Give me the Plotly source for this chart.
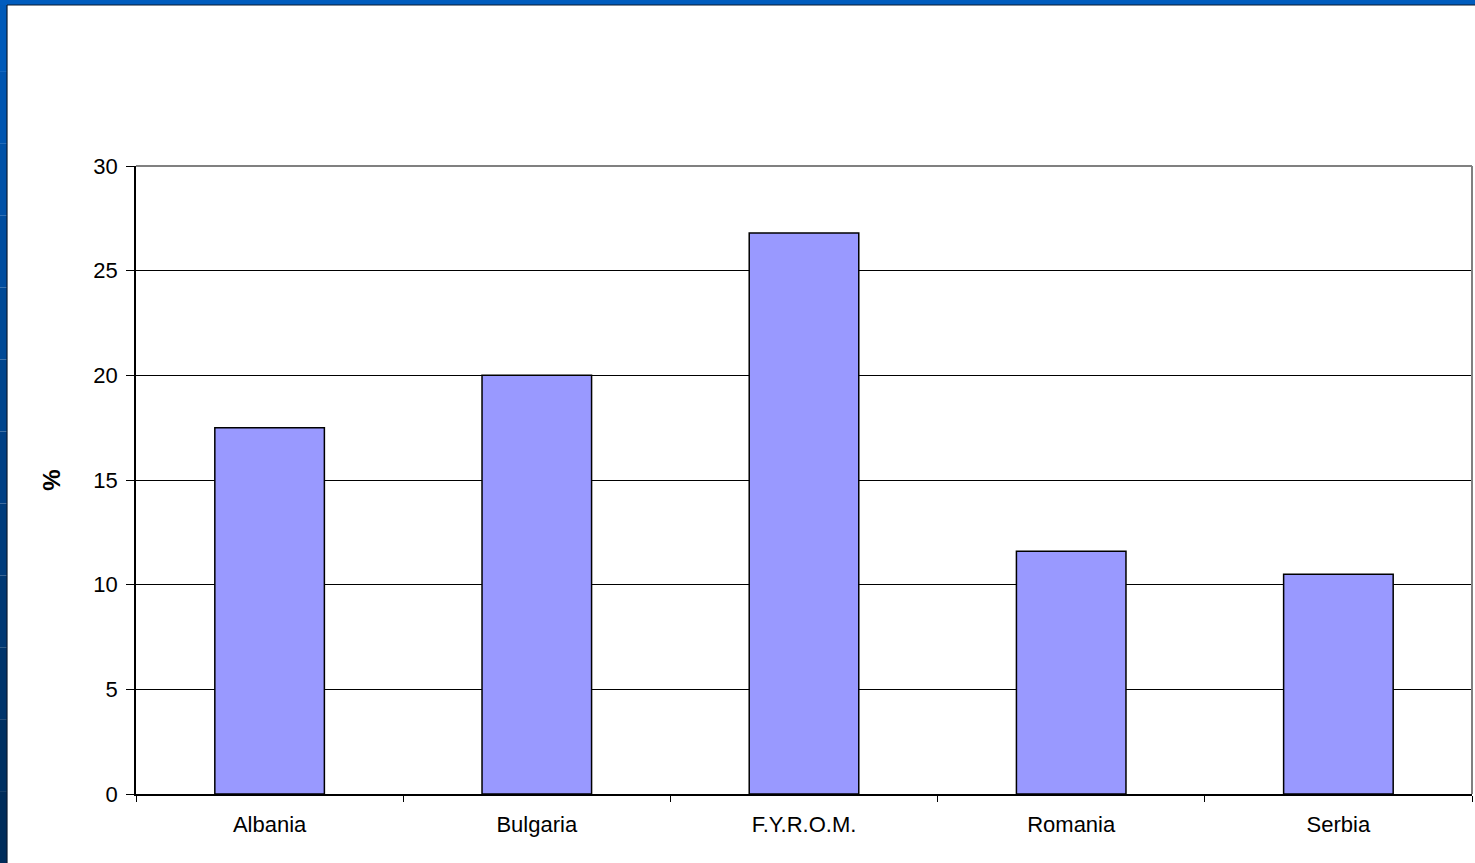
import plotly.graph_objects as go

countries = ["Albania", "Bulgaria", "F.Y.R.O.M.", "Romania", "Serbia"]
values = [17.5, 20.0, 26.8, 11.6, 10.5]
y_ticks = [0, 5, 10, 15, 20, 25, 30]

W, H = 1475, 863
L, R, T, B = 136, 3, 166, 69
PW, PH = W - L - R, H - T - B

def px_x(px):
    return (px - L) / PW

def px_y(py):
    return (H - B - py) / PH

fig = go.Figure()
fig.add_trace(go.Bar(
    x=countries, y=values, width=0.41,
    marker=dict(color="#9999FF", line=dict(color="#000000", width=1.5)),
))

shapes = []
# blue slide frame: left strip gradient (approximated by segments) and top strip
n = 12
top_col = (0, 90, 185)
bot_col = (0, 44, 90)
for i in range(n):
    f = i / (n - 1)
    c = tuple(int(top_col[k] + (bot_col[k] - top_col[k]) * f) for k in range(3))
    y0 = i * H / n
    y1 = (i + 1) * H / n
    shapes.append(dict(type="rect", xref="paper", yref="paper",
                       x0=px_x(0), x1=px_x(7), y0=px_y(y1), y1=px_y(y0),
                       fillcolor="rgb(%d,%d,%d)" % c, line=dict(width=0), layer="above"))
shapes.append(dict(type="rect", xref="paper", yref="paper",
                   x0=px_x(0), x1=px_x(W), y0=px_y(5), y1=px_y(0),
                   fillcolor="#005CBE", line=dict(width=0), layer="above"))
shapes.append(dict(type="line", xref="paper", yref="paper",
                   x0=px_x(7), x1=px_x(W), y0=px_y(5), y1=px_y(5),
                   line=dict(color="#0A1A30", width=1.2), layer="above"))
shapes.append(dict(type="line", xref="paper", yref="paper",
                   x0=px_x(7), x1=px_x(7), y0=px_y(H), y1=px_y(5),
                   line=dict(color="#0A1A30", width=1.2), layer="above"))
# plot area border (grey top/right)
shapes.append(dict(type="line", xref="paper", yref="paper",
                   x0=0, x1=1, y0=1, y1=1, line=dict(color="#808080", width=2)))
shapes.append(dict(type="line", xref="paper", yref="paper",
                   x0=1, x1=1, y0=0, y1=1, line=dict(color="#808080", width=2)))

fig.update_layout(
    width=W, height=H,
    margin=dict(l=L, r=R, t=T, b=B),
    paper_bgcolor="white", plot_bgcolor="white",
    showlegend=False,
    shapes=shapes,
    font=dict(family="Liberation Sans, Arial", color="black", size=22),
    xaxis=dict(
        type="category", range=[-0.5, 4.5],
        showline=True, linecolor="black", linewidth=1.5,
        ticks="outside", tickson="boundaries", ticklen=6, tickcolor="black", tickwidth=1,
        showgrid=False, tickfont=dict(size=22), ticklabelstandoff=10,
    ),
    yaxis=dict(
        range=[0, 30], tickvals=y_ticks,
        showline=True, linecolor="black", linewidth=1.5,
        ticks="outside", ticklen=8, tickcolor="black", tickwidth=1,
        showgrid=True, gridcolor="black", gridwidth=1,
        zeroline=False, tickfont=dict(size=22), ticklabelstandoff=4,
        title=dict(text="<b>%</b>", font=dict(size=24), standoff=26),
    ),
)

fig.write_html("out.html", config={"displayModeBar": False},
               post_script="document.body.style.margin='0';document.body.style.overflow='hidden';")
